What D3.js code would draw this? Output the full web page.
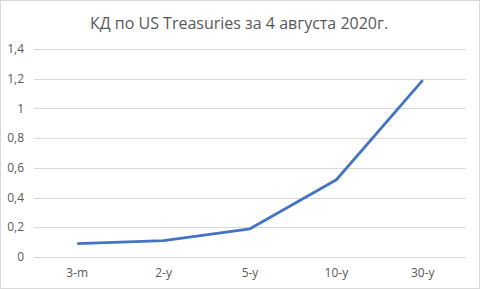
<!DOCTYPE html>
<html>
<head>
<meta charset="utf-8">
<script src="https://cdn.jsdelivr.net/npm/d3@7"></script>
<style>
  body { margin: 0; background: #fff; }
  text { font-family: "Open Sans", "Noto Sans", sans-serif; fill: #595959; }
</style>
</head>
<body>
<main></main>
<script>
const categories = ['3-m', '2-y', '5-y', '10-y', '30-y']
const yields = [0.09, 0.11, 0.19, 0.52, 1.19]
const yTicks = [0, 0.2, 0.4, 0.6, 0.8, 1, 1.2, 1.4]
const title = 'КД по US Treasuries за 4 августа 2020г.'

const W = 480, H = 289
const margin = {top: 49, right: 14, bottom: 32, left: 34}
const width = W - margin.left - margin.right
const height = H - margin.top - margin.bottom

const svg = d3.select('main').append('svg')
  .attr('width', W)
  .attr('height', H)

svg.append('rect')
  .attr('x', 0.5).attr('y', 0.5)
  .attr('width', W - 1).attr('height', H - 1)
  .attr('fill', '#fff')
  .attr('stroke', '#d9d9d9')

svg.append('text')
  .attr('x', 239)
  .attr('y', 29)
  .attr('text-anchor', 'middle')
  .style('font-size', '16px')
  .text(title)

const x = d3.scaleBand().domain(categories).range([0, width])
const y = d3.scaleLinear().domain([0, 1.4]).range([height, 0])

const g = svg.append('g')
  .attr('transform', `translate(${margin.left},${margin.top})`)

// gridlines
g.append('g')
  .selectAll('line')
  .data(yTicks)
  .enter().append('line')
    .attr('x1', 0)
    .attr('x2', width)
    .attr('y1', d => Math.round(y(d)) + 0.5)
    .attr('y2', d => Math.round(y(d)) + 0.5)
    .attr('stroke', '#d9d9d9')
    .attr('stroke-width', 1)

// y labels
g.append('g')
  .selectAll('text')
  .data(yTicks)
  .enter().append('text')
    .attr('x', -10)
    .attr('y', d => y(d))
    .attr('dy', '0.35em')
    .attr('text-anchor', 'end')
    .style('font-size', '12px')
    .text(d => String(d).replace('.', ','))

// x labels
g.append('g')
  .selectAll('text')
  .data(categories)
  .enter().append('text')
    .attr('x', d => x(d) + x.bandwidth() / 2)
    .attr('y', height + 20)
    .attr('text-anchor', 'middle')
    .style('font-size', '12px')
    .text(d => d)

const line = d3.line()
  .x((d, i) => x(categories[i]) + x.bandwidth() / 2)
  .y(d => y(d))

g.append('path')
  .datum(yields)
  .attr('d', line)
  .attr('fill', 'none')
  .attr('stroke', '#4472c4')
  .attr('stroke-width', 2.75)
  .attr('stroke-linejoin', 'round')
</script>
</body>
</html>
